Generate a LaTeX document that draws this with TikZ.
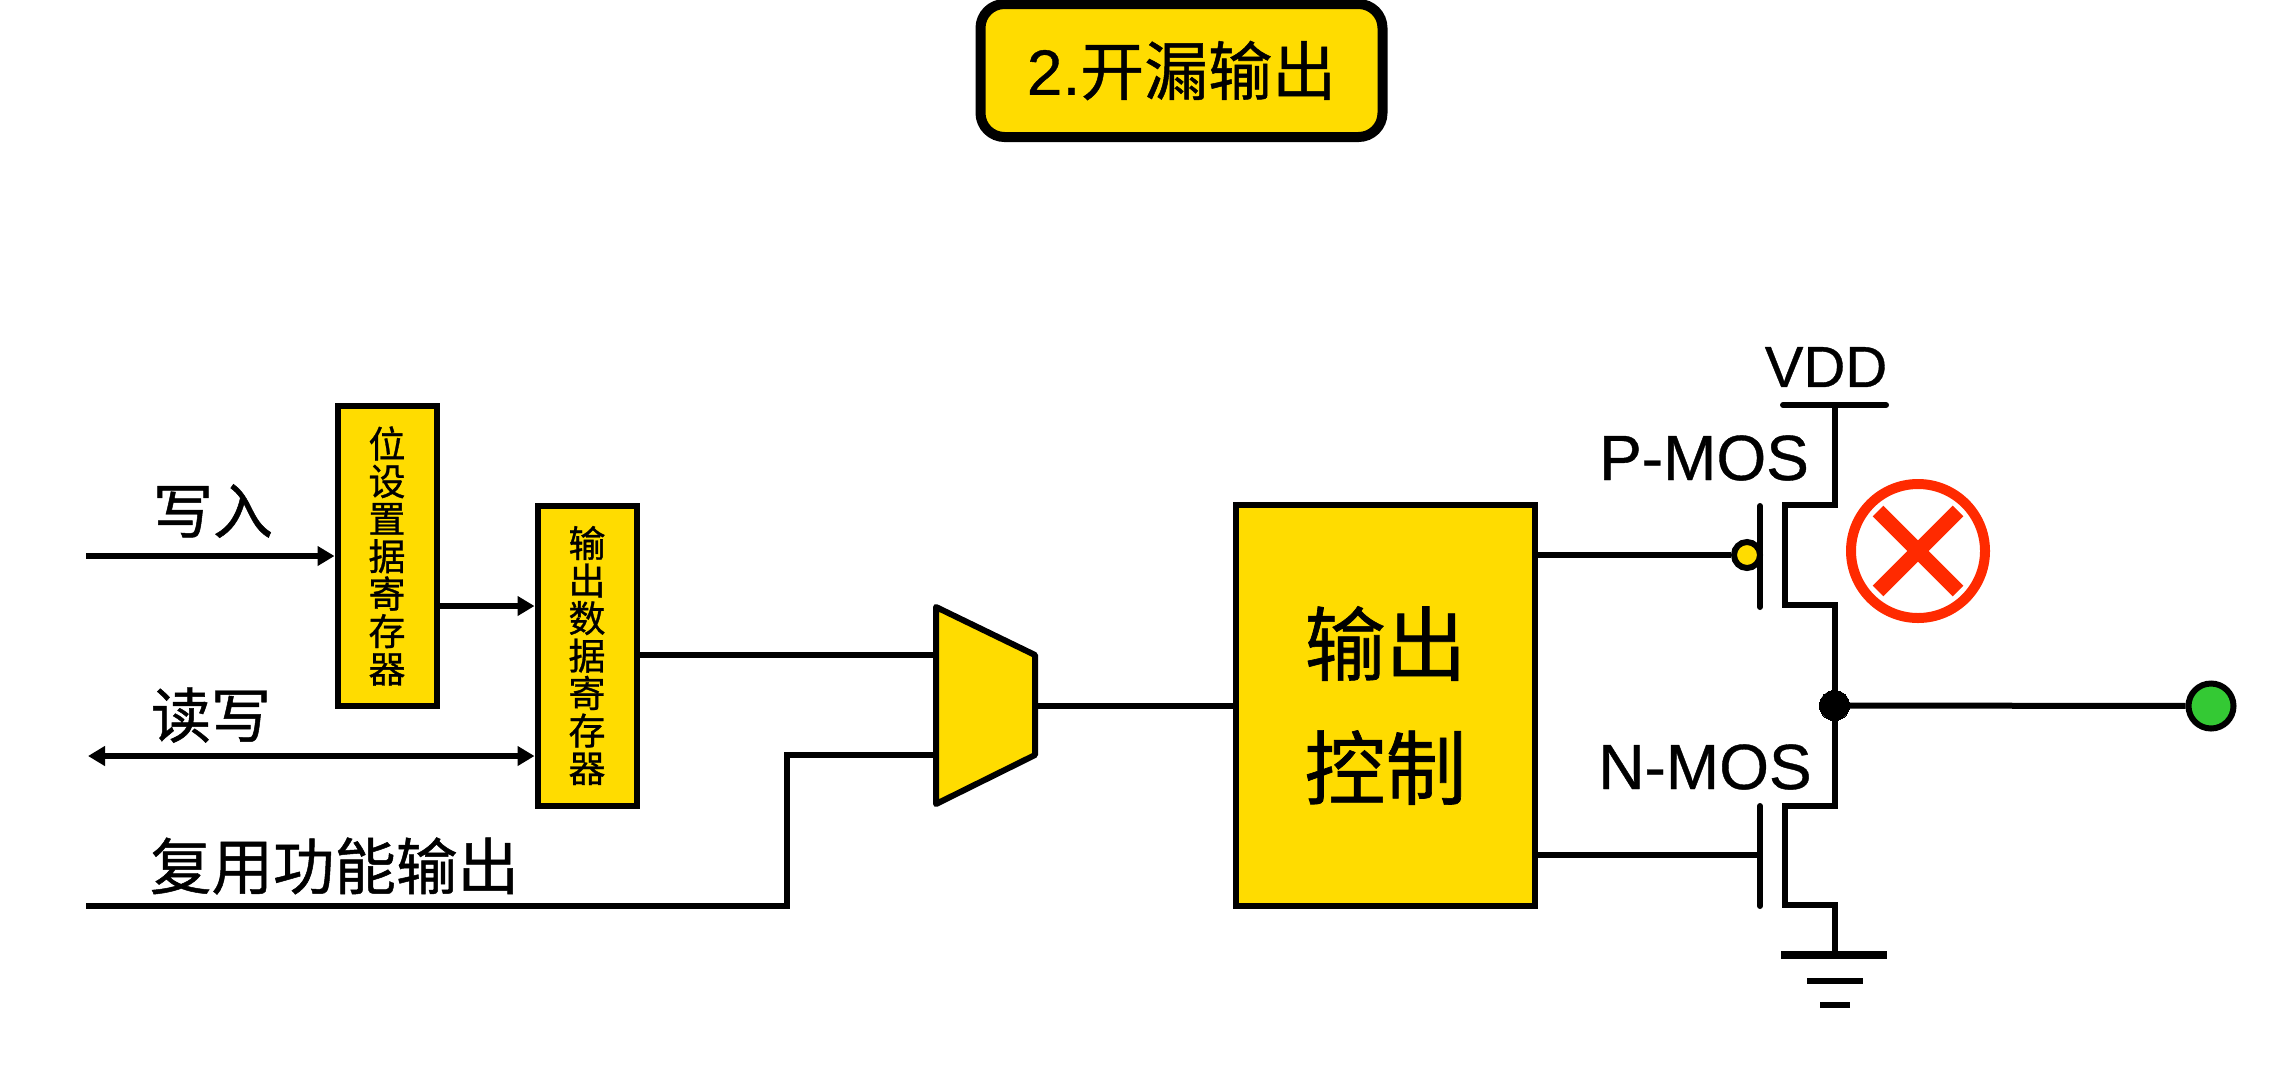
\documentclass[tikz,border=0pt]{standalone}
\usepackage{fontspec}
\setmainfont[FakeBold=0.6]{Liberation Sans}
\newfontfamily\cjk[FakeBold=0.8]{Noto Sans CJK SC}
\usetikzlibrary{arrows.meta}
\definecolor{gold}{HTML}{FFDC00}
\definecolor{cross}{HTML}{FF2A00}
\definecolor{led}{HTML}{34C934}
\newcommand{\fs}[1]{\fontsize{#1}{#1}\selectfont}
\newcommand{\nudge}[1]{\raisebox{-6pt}{#1}}

\begin{document}
\begin{tikzpicture}[x=1pt,y=-1pt,line width=6pt]
    \tikzstyle{box}=[draw,fill=gold,inner sep=0pt,align=center]
    \tikzstyle{reg}=[box,minimum width=99pt,minimum height=300pt,font=\cjk\fontsize{37}{37.5}\selectfont]
    \tikzstyle{label}=[inner sep=0pt,font=\cjk\fs{60}]
    \tikzstyle{mos}=[inner sep=0pt,font=\fs{64}]
    \tikzstyle{arrow}=[-{Triangle[length=17pt,width=19pt]}]
    \tikzstyle{dot}=[circle,draw,inner sep=0pt]

    \useasboundingbox (0,0) rectangle (2277,1077);

    % title
    \node[box,line width=10pt,rounded corners=24pt,minimum width=402pt,minimum height=133pt,font=\fs{64}] (T) at (1181.5,70.5) {\nudge{2.{\cjk 开漏输出}}};

    % registers
    \node[reg] (R-1) at (387,556) {位\\设\\置\\据\\寄\\存\\器};
    \node[reg] (R-2) at (587,655.5) {输\\出\\数\\据\\寄\\存\\器};
    \node[box,minimum width=299pt,minimum height=401pt,font=\cjk\fontsize{81}{124}\selectfont] (C) at (1385.5,705.5) {\nudge{输出}\\\nudge{控制}};

    % inputs
    \coordinate (I-1) at (86,556);
    \coordinate (I-2) at (88,756);
    \coordinate (I-3) at (86,906);
    \coordinate (I-4) at (787,906);
    \coordinate (J-1) at (440,606);
    \node[label] (L-1) at (213,511) {写入};
    \node[label] (L-2) at (211,715) {读写};
    \node[label,font=\cjk\fs{61.5}] (L-3) at (334.5,866) {复用功能输出};

    % mux
    \coordinate (M-1) at (936,607);
    \coordinate (M-2) at (1035,655);
    \coordinate (M-3) at (1035,755);
    \coordinate (M-4) at (936,804);
    \coordinate (M-O) at (1035,705.5);
    \draw[fill=gold,line join=round] (M-1) -- (M-2) -- (M-3) -- (M-4) -- cycle;

    \draw[arrow] (I-1) -- (R-1.west);
    \draw[arrow] (R-1.east |- J-1) -- (R-2.west |- J-1);
    \draw[{Triangle[length=17pt,width=19pt]}-{Triangle[length=17pt,width=19pt]}] (I-2) -- (R-2.west |- I-2);
    \draw (R-2.east |- M-2) -- (M-2 -| M-1);
    \draw (I-3) -- (I-4) -- (I-4 |- M-3) -- (M-3 -| M-1);
    \draw (M-O) -- (C.west);

    % transistors
    \coordinate (V) at (1834.5,405);
    \coordinate (Q) at (1834.5,705.5);
    \coordinate (G) at (1834.5,955);
    \node[inner sep=0pt,font=\fs{58}] (VDD) at (1826,367) {VDD};
    \node[mos] (P) at (1704,458) {P-MOS};
    \node[mos] (N) at (1705,767) {N-MOS};
    \draw[line cap=round] (1783,405) -- (1886,405);
    \draw[line join=miter] (V) -- (1834.5,505) -- (1785,505) -- (1785,605) -- (1834.5,605) -- (Q);
    \draw[line join=miter] (Q) -- (1834.5,806) -- (1785,806) -- (1785,905) -- (1834.5,905) -- (G);
    \draw[line cap=round] (1760,506) -- (1760,607);
    \draw[line cap=round] (1760,806) -- (1760,906);
    \node[dot,fill=gold,minimum size=26pt] (B) at (1747,555) {};
    \draw (C.east |- B) -- (B);
    \draw (C.east |- 0,855) -- (1760,855);

    % ground
    \foreach \y/\a/\b/\w in {955/1781/1887/7.5,981/1807/1863/6,1005/1820/1850/6}
    \draw[line width=\w pt] (\a,\y) -- (\b,\y);

    % output
    \node[dot,fill=black,line width=0pt,minimum size=30pt] (K) at (Q) {};
    \node[dot,fill=led,minimum size=45pt] (O) at (2211,706) {};
    \draw (K) -- (O);

    % red mark
    \node[dot,draw=cross,line width=10pt,minimum size=134pt] (X) at (1918,551) {};
    \draw[cross,line width=15pt] (1878,511) -- (1958,591);
    \draw[cross,line width=15pt] (1958,511) -- (1878,591);
\end{tikzpicture}
\end{document}
